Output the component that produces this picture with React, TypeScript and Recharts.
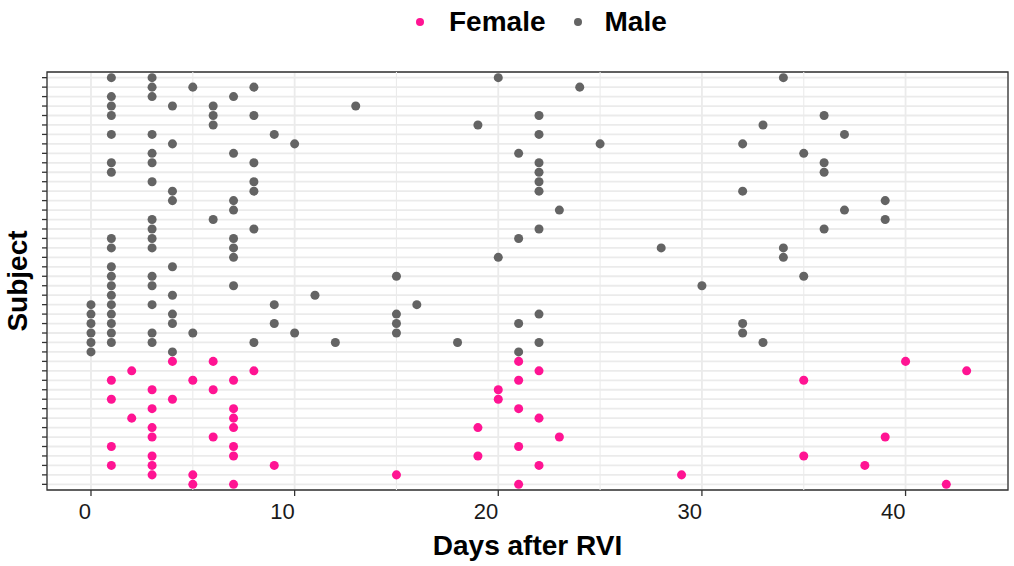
import {
  ScatterChart,
  Scatter,
  XAxis,
  YAxis,
  ZAxis,
  CartesianGrid,
  ReferenceLine,
  ReferenceArea,
  Legend,
} from "recharts";

// Days of each visit, one list per subject (top of the chart first)
const MALE_DAYS: number[][] = [
  [1, 3, 20, 34],
  [3, 5, 8, 24],
  [1, 3, 7],
  [1, 4, 6, 13],
  [1, 6, 8, 22, 36],
  [6, 19, 33],
  [1, 3, 9, 22, 37],
  [4, 10, 25, 32],
  [3, 7, 21, 35],
  [1, 3, 8, 22, 36],
  [1, 22, 36],
  [3, 8, 22],
  [4, 8, 22, 32],
  [4, 7, 39],
  [7, 23, 37],
  [3, 6, 39],
  [3, 8, 22, 36],
  [1, 3, 7, 21],
  [1, 3, 7, 28, 34],
  [7, 20, 34],
  [1, 4],
  [1, 3, 15, 35],
  [1, 3, 7, 30],
  [1, 4, 11],
  [0, 1, 3, 9, 16],
  [0, 1, 4, 15, 22],
  [0, 1, 4, 9, 15, 21, 32],
  [0, 1, 3, 5, 10, 15, 32],
  [0, 1, 3, 8, 12, 18, 22, 33],
  [0, 4, 21],
];

const FEMALE_DAYS: number[][] = [
  [4, 6, 21, 40],
  [2, 8, 22, 43],
  [1, 5, 7, 21, 35],
  [3, 6, 20],
  [1, 4, 20],
  [3, 7, 21],
  [2, 7, 22],
  [3, 7, 19],
  [3, 6, 23, 39],
  [1, 7, 21],
  [3, 7, 19, 35],
  [1, 3, 9, 22, 38],
  [3, 5, 15, 29],
  [5, 7, 21, 42],
];

const X_TICKS = [0, 10, 20, 30, 40];
const X_MINOR = [5, 15, 25, 35];
const X_DOMAIN: [number, number] = [-2.16, 45.03];

const FEMALE_COLOR = "#FF1493";
const MALE_COLOR = "#646464";
const FONT = "'Liberation Sans', Arial, Helvetica, sans-serif";

const nSubjects = MALE_DAYS.length + FEMALE_DAYS.length;
const subjectTicks = Array.from({ length: nSubjects }, (_, i) => i + 1);

const malePoints = MALE_DAYS.flatMap((days, i) =>
  days.map((day) => ({ day, subject: i + 1 })),
);
const femalePoints = FEMALE_DAYS.flatMap((days, i) =>
  days.map((day) => ({ day, subject: MALE_DAYS.length + i + 1 })),
);

const LEGEND_ITEMS = [
  { name: "Female", color: FEMALE_COLOR },
  { name: "Male", color: MALE_COLOR },
];

function SexLegend() {
  return (
    <div
      style={{
        height: 44,
        display: "flex",
        alignItems: "center",
        marginLeft: 416,
        fontFamily: FONT,
        fontWeight: "bold",
        fontSize: 28,
        color: "#000",
      }}
    >
      {LEGEND_ITEMS.map((item, i) => (
        <span key={item.name} style={{ display: "flex", alignItems: "center", marginLeft: i ? 28 : 0 }}>
          <span
            style={{ display: "inline-block", width: 8, height: 8, borderRadius: 4, background: item.color }}
          />
          <span style={{ marginLeft: i ? 23 : 25 }}>{item.name}</span>
        </span>
      ))}
    </div>
  );
}

export default function App() {
  return (
    <div style={{ position: "absolute", left: 0, top: 0, width: 1014, height: 566, background: "#fff" }}>
      <ScatterChart width={1014} height={566} margin={{ top: 28, right: 6, bottom: 0, left: 0 }}>
        <Legend verticalAlign="top" align="left" content={() => <SexLegend />} wrapperStyle={{ top: 0, left: 0, width: 1014 }} />
        <CartesianGrid stroke="#ebebeb" strokeWidth={1.8} />
        {X_MINOR.map((x) => (
          <ReferenceLine key={x} x={x} stroke="#ebebeb" strokeWidth={1.1} />
        ))}
        <XAxis
          type="number"
          dataKey="day"
          domain={X_DOMAIN}
          ticks={X_TICKS}
          allowDataOverflow
          height={76}
          axisLine={false}
          tickSize={6}
          tickMargin={7}
          tickLine={{ stroke: "#333333", strokeWidth: 1.3 }}
          tick={{ fill: "#1a1a1a", fontSize: 22, fontFamily: FONT, textAnchor: "end" }}
          label={{
            value: "Days after RVI",
            position: "insideBottom",
            offset: 11,
            style: { fontFamily: FONT, fontSize: 28, fontWeight: "bold", fill: "#000" },
          }}
        />
        <YAxis
          type="number"
          dataKey="subject"
          reversed
          domain={[0.4, nSubjects + 0.6]}
          ticks={subjectTicks}
          interval={0}
          allowDataOverflow
          width={47}
          axisLine={false}
          tickSize={5}
          tickLine={{ stroke: "#333333", strokeWidth: 1.3 }}
          tickFormatter={() => ""}
          label={{
            value: "Subject",
            angle: -90,
            position: "insideLeft",
            offset: 17,
            textAnchor: "middle",
            style: { fontFamily: FONT, fontSize: 28, fontWeight: "bold", fill: "#000", textAnchor: "middle" },
          }}
        />
        <ZAxis range={[50, 50]} />
        <Scatter name="Male" data={malePoints} fill={MALE_COLOR} isAnimationActive={false} />
        <Scatter name="Female" data={femalePoints} fill={FEMALE_COLOR} isAnimationActive={false} />
        <ReferenceArea
          x1={X_DOMAIN[0]}
          x2={X_DOMAIN[1]}
          y1={0.4}
          y2={nSubjects + 0.6}
          fill="none"
          fillOpacity={0}
          stroke="#333333"
          strokeWidth={1.3}
        />
      </ScatterChart>
    </div>
  );
}
